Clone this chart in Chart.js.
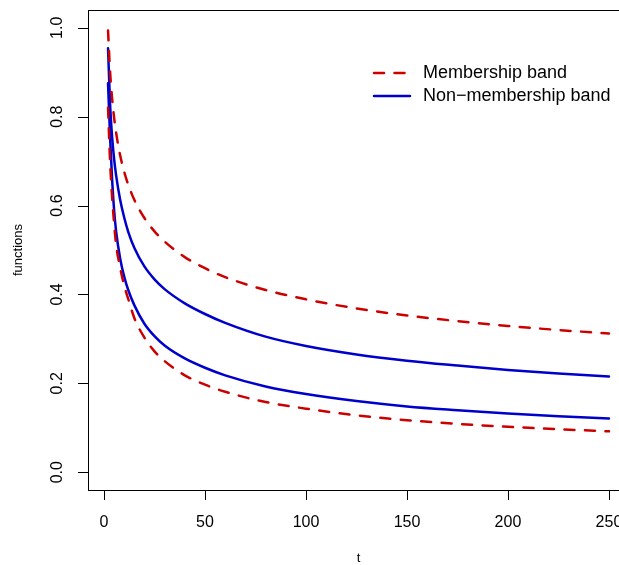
<!DOCTYPE html>
<html>
<head>
<meta charset="utf-8">
<script src="https://cdn.jsdelivr.net/npm/chart.js@4.4.0/dist/chart.umd.min.js"></script>
<style>
  html, body { margin: 0; padding: 0; background: #fff; overflow: hidden; }
  #wrap { width: 640px; height: 565px; }
</style>
</head>
<body>
<div id="wrap"><canvas id="chart" width="640" height="565"></canvas></div>
<script>
const tValues = [2, 3, 4, 5, 6, 8, 10, 12, 15, 20, 25, 30, 40, 50, 60, 80, 100, 125, 150, 175, 200, 225, 250];

// Membership band (red dashed)
const memberUpper = [0.994, 0.902, 0.842, 0.798, 0.764, 0.713, 0.676, 0.647, 0.613, 0.572, 0.542, 0.519, 0.484, 0.459, 0.439, 0.41, 0.389, 0.3685, 0.3527, 0.34, 0.329, 0.32, 0.312];
const memberLower = [0.82, 0.7, 0.62, 0.56, 0.512, 0.46, 0.42, 0.39, 0.347, 0.303, 0.272, 0.25, 0.218, 0.197, 0.181, 0.158, 0.143, 0.128, 0.117, 0.1088, 0.1022, 0.0967, 0.092];

// Non-membership band (blue solid)
const nonMemberUpper = [0.954, 0.83, 0.755, 0.705, 0.668, 0.613, 0.573, 0.541, 0.505, 0.463, 0.434, 0.412, 0.38, 0.356, 0.336, 0.305, 0.284, 0.265, 0.251, 0.24, 0.23, 0.222, 0.2155];
const nonMemberLower = [0.875, 0.755, 0.66, 0.59, 0.542, 0.481, 0.44, 0.41, 0.376, 0.334, 0.306, 0.285, 0.256, 0.235, 0.218, 0.193, 0.176, 0.16, 0.148, 0.1395, 0.132, 0.126, 0.121];

const xTicks = [0, 50, 100, 150, 200, 250];
const yTicks = [0, 0.2, 0.4, 0.6, 0.8, 1.0];
const yTickLabels = ['0.0', '0.2', '0.4', '0.6', '0.8', '1.0'];
const legendLabels = ['Membership band', 'Non\u2212membership band'];

const RED = '#cd0000';
const BLUE = '#0000cd';
const DASH = [10, 10.5];
const FONT = '"Liberation Sans", Arial, Helvetica, sans-serif';

function toPoints(values) {
    return tValues.map((t, i) => ({ x: t, y: values[i] }));
}

function bandDataset(values, color, dashed) {
    return {
        data: toPoints(values),
        borderColor: color,
        borderWidth: 2.5,
        borderDash: dashed ? DASH : [],
        borderCapStyle: 'round',
        pointRadius: 0,
        fill: false,
        cubicInterpolationMode: 'monotone'
    };
}

// R style box, ticks, labels and legend
const rStyleAxes = {
    id: 'rStyleAxes',
    afterDraw(chart) {
        const ctx = chart.ctx;
        const a = chart.chartArea;
        const x = chart.scales.x;
        const y = chart.scales.y;
        ctx.save();
        ctx.strokeStyle = '#000';
        ctx.fillStyle = '#000';
        ctx.lineWidth = 1;

        // box
        ctx.strokeRect(Math.round(a.left) + 0.5, Math.round(a.top) + 0.5,
            Math.round(a.right - a.left), Math.round(a.bottom - a.top));

        // tick marks
        ctx.beginPath();
        xTicks.forEach(v => {
            const px = Math.round(x.getPixelForValue(v)) + 0.5;
            ctx.moveTo(px, a.bottom);
            ctx.lineTo(px, a.bottom + 10);
        });
        yTicks.forEach(v => {
            const py = Math.round(y.getPixelForValue(v)) + 0.5;
            ctx.moveTo(a.left, py);
            ctx.lineTo(a.left - 10, py);
        });
        ctx.stroke();

        // tick labels
        ctx.font = '16px ' + FONT;
        ctx.textAlign = 'center';
        ctx.textBaseline = 'middle';
        xTicks.forEach(v => {
            ctx.fillText(String(v), x.getPixelForValue(v), a.bottom + 33);
        });
        yTicks.forEach((v, i) => {
            ctx.save();
            ctx.translate(a.left - 30, y.getPixelForValue(v));
            ctx.rotate(-Math.PI / 2);
            ctx.fillText(yTickLabels[i], 0, 0);
            ctx.restore();
        });

        // axis titles
        ctx.font = '13px ' + FONT;
        ctx.fillText('t', (a.left + a.right) / 2, 558);
        ctx.save();
        ctx.translate(18, (a.top + a.bottom) / 2);
        ctx.rotate(-Math.PI / 2);
        ctx.fillText('functions', 0, 0);
        ctx.restore();

        // legend
        const rows = [
            { label: legendLabels[0], color: RED, dash: DASH, y: 73 },
            { label: legendLabels[1], color: BLUE, dash: [], y: 96 }
        ];
        ctx.font = '18px ' + FONT;
        ctx.textAlign = 'left';
        rows.forEach(r => {
            ctx.beginPath();
            ctx.strokeStyle = r.color;
            ctx.lineWidth = 2.5;
            ctx.lineCap = 'round';
            ctx.setLineDash(r.dash);
            ctx.moveTo(374, r.y);
            ctx.lineTo(410, r.y);
            ctx.stroke();
            ctx.setLineDash([]);
            ctx.fillStyle = '#000';
            ctx.fillText(r.label, 423, r.y);
        });
        ctx.restore();
    }
};

const chart = new Chart(document.getElementById('chart').getContext('2d'), {
    type: 'line',
    data: {
        datasets: [
            bandDataset(memberUpper, RED, true),
            bandDataset(memberLower, RED, true),
            bandDataset(nonMemberUpper, BLUE, false),
            bandDataset(nonMemberLower, BLUE, false)
        ]
    },
    options: {
        responsive: false,
        animation: false,
        layout: {
            padding: { left: 88, top: 10, right: 11, bottom: 75 }
        },
        scales: {
            x: { type: 'linear', min: -7.92, max: 259.92, display: false },
            y: { type: 'linear', min: -0.04, max: 1.04, display: false }
        },
        plugins: {
            legend: { display: false },
            tooltip: { enabled: false }
        }
    },
    plugins: [rStyleAxes]
});
</script>
</body>
</html>
